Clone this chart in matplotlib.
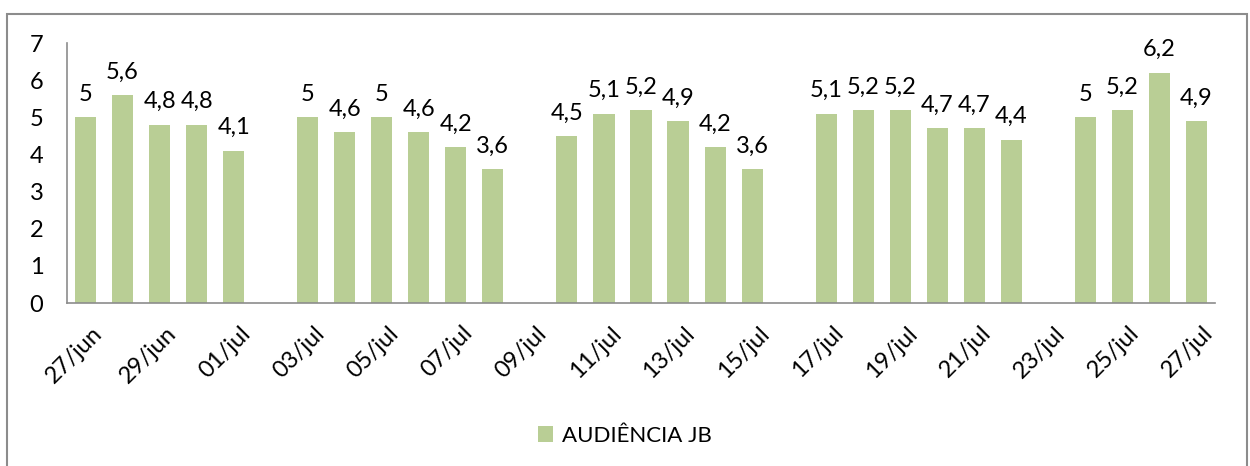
import matplotlib
matplotlib.use("Agg")
import matplotlib.pyplot as plt
from matplotlib.patches import Rectangle
import matplotlib.transforms as mtransforms
import numpy as np

plt.rcParams['font.family'] = ['Lato', 'DejaVu Sans']

dates = ["27/jun", "28/jun", "29/jun", "30/jun", "01/jul", "02/jul", "03/jul", "04/jul",
         "05/jul", "06/jul", "07/jul", "08/jul", "09/jul", "10/jul", "11/jul", "12/jul",
         "13/jul", "14/jul", "15/jul", "16/jul", "17/jul", "18/jul", "19/jul", "20/jul",
         "21/jul", "22/jul", "23/jul", "24/jul", "25/jul", "26/jul", "27/jul"]
audiencia = [5, 5.6, 4.8, 4.8, 4.1, None, 5, 4.6, 5, 4.6, 4.2, 3.6, None, 4.5, 5.1, 5.2,
             4.9, 4.2, 3.6, None, 5.1, 5.2, 5.2, 4.7, 4.7, 4.4, None, 5, 5.2, 6.2, 4.9]
series_name = "AUDIÊNCIA JB"

bar_color = "#B9CE95"

fig = plt.figure(figsize=(12.5, 4.66), dpi=100)
ax = fig.add_axes([67/1250, 1 - 303/466, (1215-67)/1250, (303-43)/466])

x = np.arange(len(dates))
vals = np.array([np.nan if v is None else v for v in audiencia], dtype=float)
bars = ax.bar(x, np.nan_to_num(vals), width=0.57, color=bar_color, label=series_name)
for xi, v in zip(x, audiencia):
    if v is not None:
        ax.annotate(f"{v:g}".replace(".", ","), (xi, v), xytext=(0, 9),
                    textcoords="offset points", ha="center", va="bottom", fontsize=17)

ax.set_xlim(-0.5, len(dates) - 0.5)
ax.set_ylim(0, 7)
ax.set_yticks(range(0, 8))
ax.set_xticks(x[::2])
ax.set_xticklabels(dates[::2], rotation=45, ha="right", rotation_mode="anchor", fontsize=17)
ax.tick_params(axis="y", length=0, labelsize=17, pad=17)
ax.tick_params(axis="x", length=0, pad=14)
offset = mtransforms.ScaledTranslation(6/100, 0, fig.dpi_scale_trans)
for lbl in ax.get_xticklabels():
    lbl.set_transform(lbl.get_transform() + offset)
for s in ["top", "right"]:
    ax.spines[s].set_visible(False)
for s in ["left", "bottom"]:
    ax.spines[s].set_color("#8C8C8C")
    ax.spines[s].set_linewidth(1.2)

leg = fig.legend(handles=[bars], labels=[series_name], loc="center", bbox_to_anchor=(0.5, 1 - 436/466),
                 frameon=False, fontsize=16, handlelength=0.7, handleheight=0.7, handletextpad=0.4)

fig.patches.append(Rectangle((7/1250, -0.01), (1247-7)/1250, 1.01 - 14/466 + 0.0,
                             transform=fig.transFigure, fill=False, edgecolor="#8C8C8C", linewidth=1.5))

fig.savefig("out.png", dpi=100)
